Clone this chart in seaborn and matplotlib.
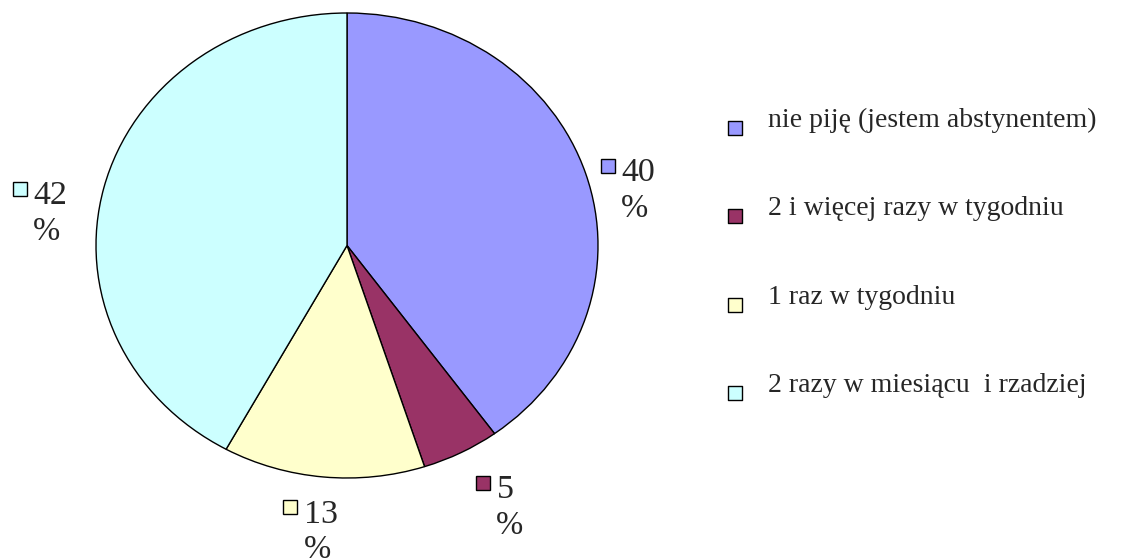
import numpy as np
import matplotlib
matplotlib.use("Agg")
import matplotlib.pyplot as plt
import matplotlib.transforms as mtransforms
import seaborn as sns

# dane
kategorie = ['nie piję (jestem abstynentem)', '2 i więcej razy w tygodniu',
             '1 raz w tygodniu', '2 razy w miesiącu  i rzadziej']
procenty = [40, 5, 13, 42]
kolory = ['#9999FF', '#993366', '#FFFFCC', '#CCFFFF']

sns.set_style("white")
plt.rcParams['font.family'] = ['Liberation Serif', 'DejaVu Serif']

fig = plt.figure(figsize=(11.25, 5.6), dpi=100)
W, H = 1125, 560

# wykres kołowy (lekko eliptyczny)
ax = fig.add_axes([96 / W, 82 / H, 502 / W, 465 / H])
wedges, _ = ax.pie(procenty, colors=kolory, startangle=90, counterclock=False,
                   wedgeprops=dict(edgecolor='black', linewidth=1.0))
ax.set_aspect('auto')
ax.set_xlim(-1, 1)
ax.set_ylim(-1, 1)
ax.axis('off')

# etykiety z kwadracikiem
for w, p, c in zip(wedges, procenty, kolory):
    kat = np.deg2rad((w.theta1 + w.theta2) / 2)
    cx, cy = np.cos(kat), np.sin(kat)
    xa, ya = 1.1 * cx, 1.1 * cy
    if cx > 0.3:
        dx0 = 14 - 25 * cx
        top = 5 + 8 * cy
    elif cx < -0.3:
        dx0 = -68
        top = 8 * cy - 2
    else:
        dx0 = -39
        top = 8 + 8 * cy
    tr = mtransforms.offset_copy(ax.transData, fig=fig, x=dx0 + 8, y=top - 7, units='dots')
    ax.plot([xa], [ya], marker='s', ms=10.5, mfc=c, mec='black', mew=1.0,
            transform=tr, clip_on=False)
    ax.annotate(str(p), xy=(xa, ya), xytext=(dx0 + 22, top + 1), textcoords='offset pixels',
                ha='left', va='top', fontsize=24.5, annotation_clip=False)
    ax.annotate('%', xy=(xa, ya), xytext=(dx0 + 35, top - 58), textcoords='offset pixels',
                ha='center', va='baseline', fontsize=23.5, annotation_clip=False)

# legenda
lax = fig.add_axes([700 / W, (560 - 437) / H, 425 / W, 353 / H])
pozycje = np.arange(len(kategorie))
sns.scatterplot(x=[35] * len(kategorie), y=pozycje, hue=kategorie, palette=kolory,
                marker='s', s=100, edgecolor='black', linewidth=1.0, legend=False, ax=lax)
for y, k in zip(pozycje, kategorie):
    lax.text(68, y - 0.01, k, ha='left', va='baseline', fontsize=20)
lax.set_xlim(0, 425)
lax.set_ylim(3.5, -0.5)
lax.axis('off')

fig.savefig('out.png', dpi=100)
